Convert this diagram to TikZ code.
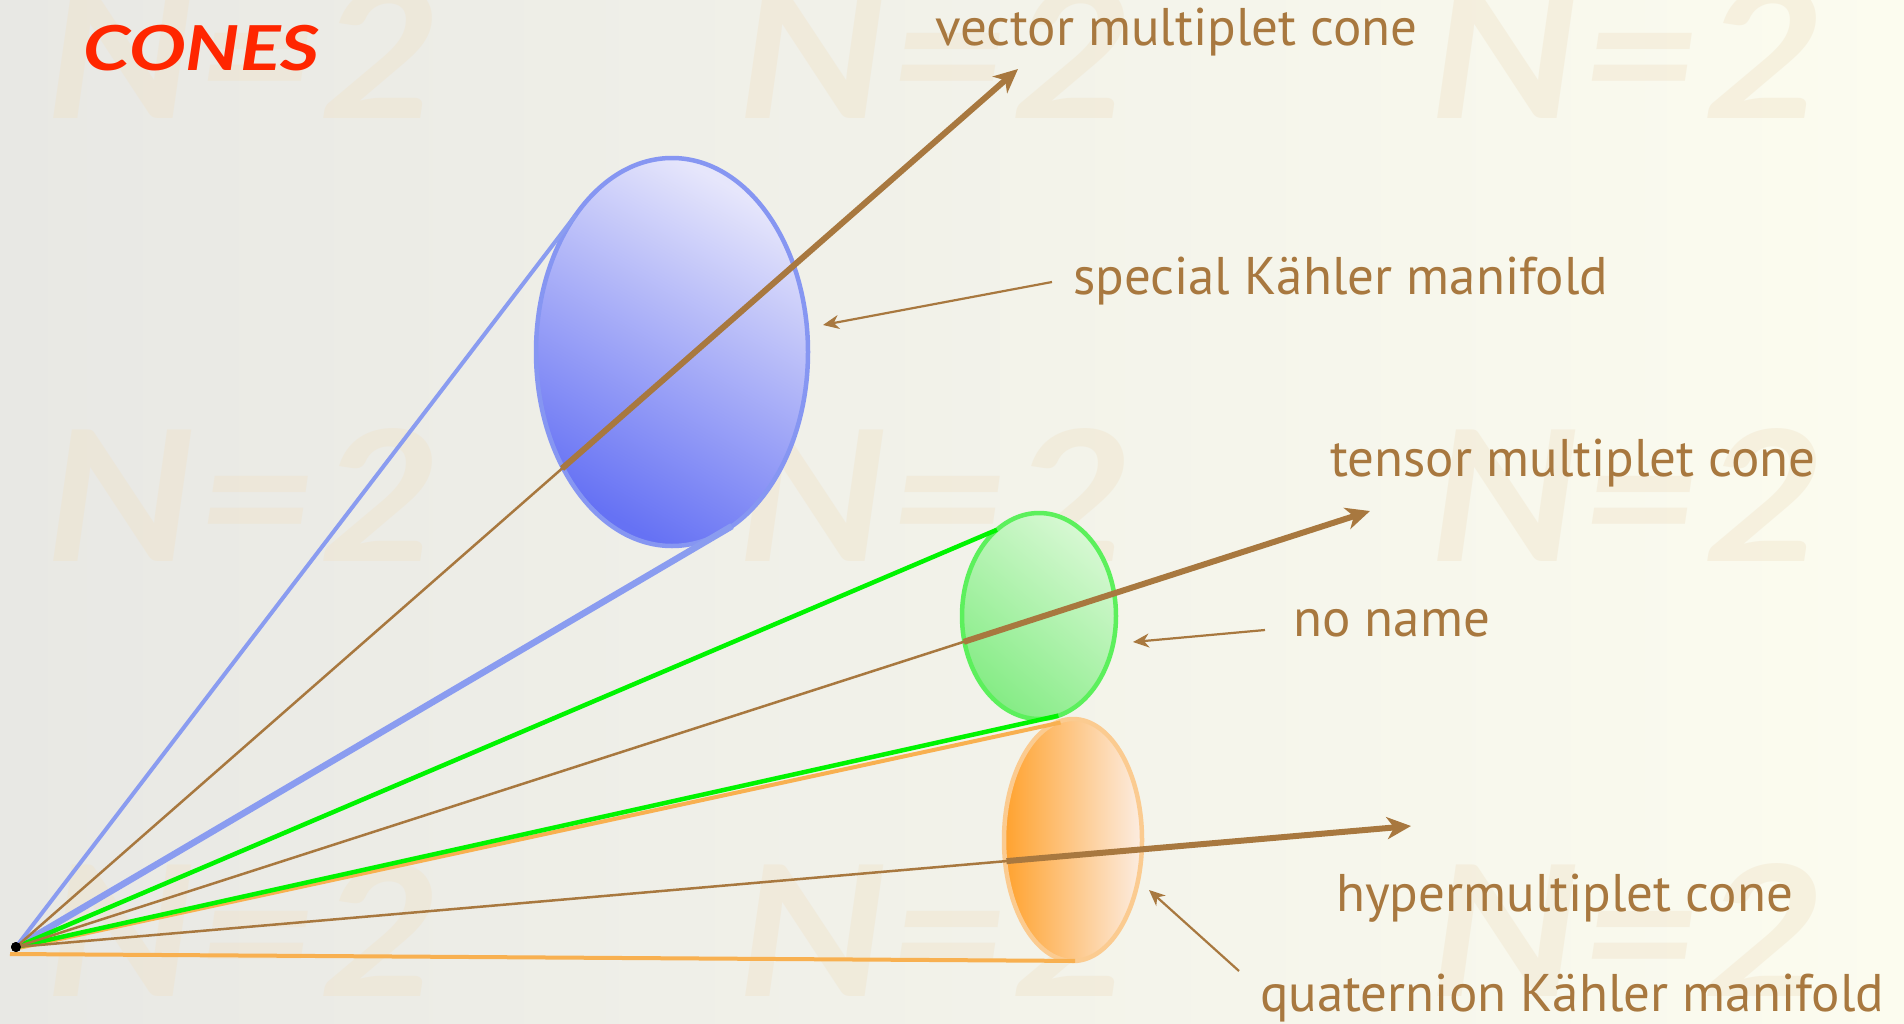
\documentclass[tikz,border=0pt]{standalone}
\usepackage{fontspec}
\setmainfont{PT Sans}
\newfontfamily\titlefont{Lato}
\usetikzlibrary{shapes.geometric,arrows.meta,calc}
\definecolor{bgl}{HTML}{E8E8E4}
\definecolor{bgr}{HTML}{FCFCEF}
\definecolor{wmc}{HTML}{F0E2C8}
\definecolor{brownarr}{HTML}{A8783F}
\definecolor{bluecone}{HTML}{8A9CF0}
\definecolor{blueedge}{HTML}{8696F2}
\definecolor{bluedark}{HTML}{6672F4}
\definecolor{bluelight}{HTML}{E6E6FB}
\definecolor{greencone}{HTML}{00F400}
\definecolor{greenedge}{HTML}{5CF05C}
\definecolor{greendark}{HTML}{86EC86}
\definecolor{greenlight}{HTML}{D6F8D2}
\definecolor{orangecone}{HTML}{F8B050}
\definecolor{orangeedge}{HTML}{FBCB90}
\definecolor{orangedark}{HTML}{FFA22E}
\definecolor{orangelight}{HTML}{FCEDE2}
\definecolor{titlered}{HTML}{FF2600}
\tikzset{
  wmark/.style={anchor=base west, text=wmc, opacity=0.4, inner sep=0pt,
    font=\titlefont\bfseries\itshape\fontsize{182}{190}\selectfont},
  lbl/.style={anchor=base west, text=brownarr, inner sep=0pt,
    font=\fontsize{53}{60}\selectfont},
  manifold/.style={ellipse, inner sep=0pt, outer sep=0pt, line width=4.5pt},
  thinarr/.style={draw=brownarr, line width=2.5pt},
  thickarr/.style={draw=brownarr, line width=6pt, -{Stealth[length=24pt,width=22pt,inset=7pt]}},
  notearr/.style={draw=brownarr, line width=2.2pt, -{Stealth[length=16pt,width=14pt,inset=5pt]}},
}
\begin{document}
\begin{tikzpicture}[x=1pt,y=-1pt]
\shade[left color=bgl, right color=bgr] (0,0) rectangle (1904,1023);
\useasboundingbox (0,0) rectangle (1904,1023);
% watermarks
\foreach \cx/\cy [count=\i] in {45/118,737/118,1429/118,45/561,737/561,1429/561,45/996,737/996,1429/996}
  \node[wmark] (wm\i) at (\cx,\cy) {\scalebox{1.16}[1]{N=2}};
% title
\node[anchor=base west, inner sep=0pt, text=titlered,
  font=\titlefont\bfseries\itshape\fontsize{62}{70}\selectfont] (title) at (83,70) {\scalebox{1.22}[1]{CONES}};
% manifolds
\node[manifold, draw=blueedge, minimum width=272pt, minimum height=388pt,
  top color=bluelight, bottom color=bluedark, shading angle=-30] (blue) at (672,352) {};
\node[manifold, draw=greenedge, minimum width=154pt, minimum height=206pt,
  top color=greenlight, bottom color=greendark, shading angle=-40] (green) at (1039,616) {};
\node[manifold, draw=orangeedge, minimum width=138pt, minimum height=242pt,
  left color=orangedark, right color=orangelight] (orange) at (1073,840) {};
% apex
\node[circle, fill=black, minimum size=10pt, inner sep=0pt] (apex) at (16,947) {};
% cone lines
\draw[orangecone, line width=4pt] (10,954) -- (orange.-89);
\draw[orangecone, line width=4pt] (apex.center) ++(0,1.5) -- ($(orange.96.7)+(0,1.5)$);
\draw[bluecone, line width=4pt] (apex.center) -- (blue.125.6);
\draw[bluecone, line width=6.5pt] (apex.center) -- (blue.-71.2);
\draw[greencone, line width=4.5pt] (apex.center) -- (green.116);
\draw[greencone, line width=4.5pt] (apex.center) -- (green.-79);
% cone axes
\coordinate (vtip) at (1018,69);
\coordinate (ttip) at (1370,511);
\coordinate (htip) at (1411,826);
\draw[thinarr] (apex.center) -- ($(apex.center)!0.55!(vtip)$);
\draw[thickarr] ($(apex.center)!0.545!(vtip)$) -- (vtip);
\draw[thinarr] (apex.center) -- ($(apex.center)!0.705!(ttip)$);
\draw[thickarr] ($(apex.center)!0.70!(ttip)$) -- (ttip);
\draw[thinarr] (apex.center) -- ($(apex.center)!0.715!(htip)$);
\draw[thickarr] ($(apex.center)!0.71!(htip)$) -- (htip);
\node[circle, fill=black, minimum size=10pt, inner sep=0pt] at (apex) {};
% labels
\node[lbl] (lvec) at (935,45) {vector multiplet cone};
\node[lbl] (lsk) at (1073,294) {special Kähler manifold};
\node[lbl] (lten) at (1330,476) {tensor multiplet cone};
\node[lbl] (lnn) at (1293,636) {no name};
\node[lbl] (lhyp) at (1336,911) {hypermultiplet cone};
\node[lbl] (lqk) at (1260,1011) {quaternion Kähler manifold};
% annotation arrows
\coordinate (sks) at (1052,282); \coordinate (ske) at (823,325);
\coordinate (nns) at (1265,630); \coordinate (nne) at (1133,642);
\coordinate (qks) at (1239,971); \coordinate (qke) at (1149,890);
\draw[notearr] (sks) -- (ske);
\draw[notearr] (nns) -- (nne);
\draw[notearr] (qks) -- (qke);
\end{tikzpicture}
\end{document}
